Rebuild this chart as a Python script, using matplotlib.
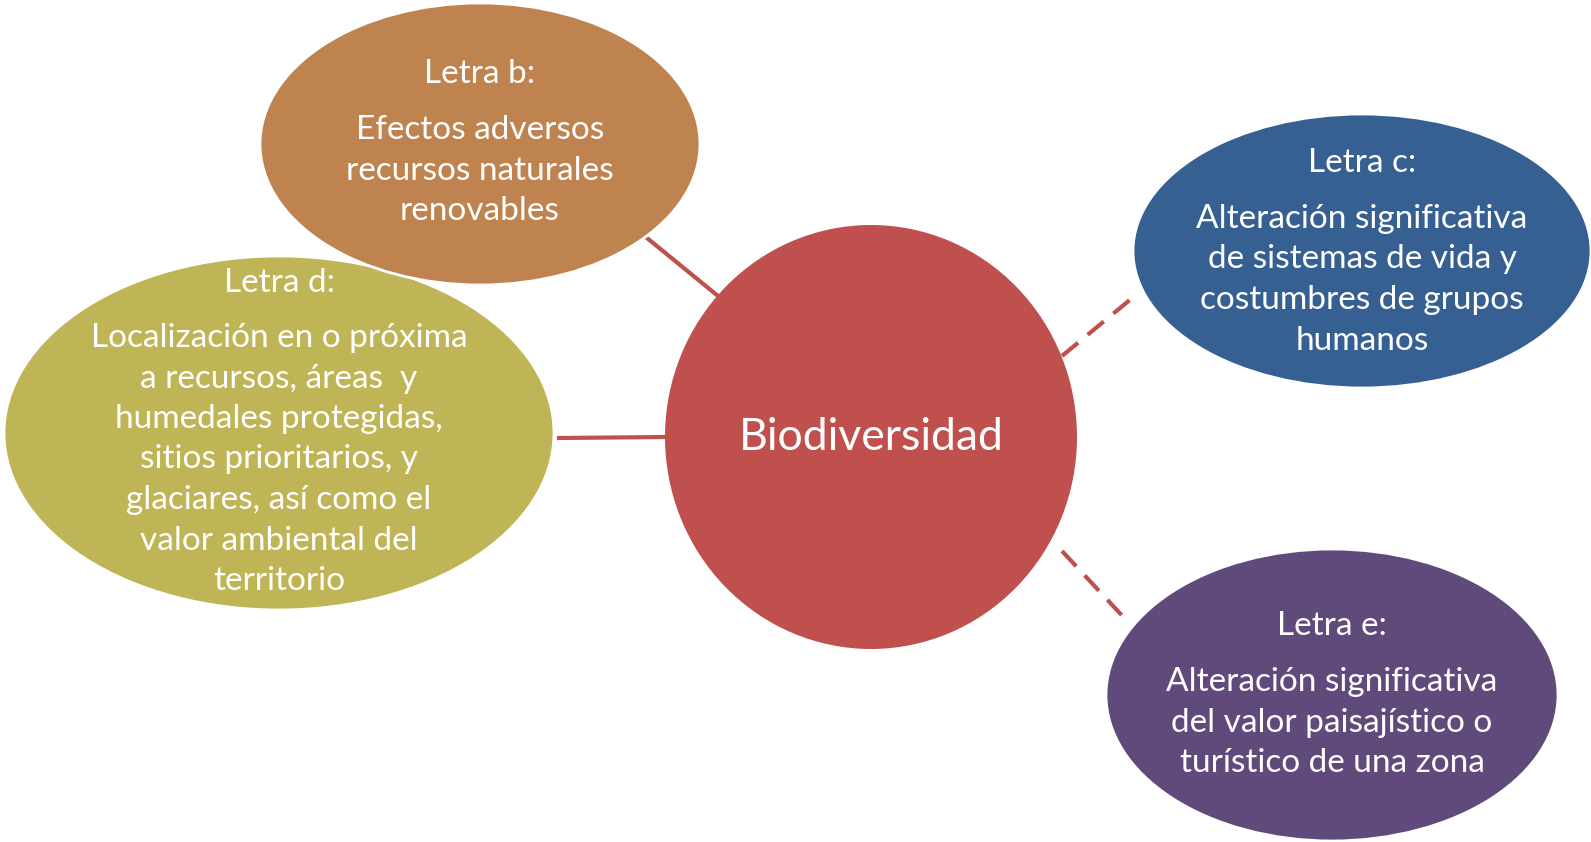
import matplotlib.pyplot as plt
from matplotlib.patches import Ellipse

plt.rcParams['font.family'] = ['Lato', 'DejaVu Sans']

# texts of the diagram
center_label = "Biodiversidad"
headers = ["Letra b:", "Letra d:", "Letra c:", "Letra e:"]
bodies = [
    ["Efectos adversos", "recursos naturales", "renovables"],
    ["Localización en o próxima", "a recursos, áreas  y", "humedales protegidas,",
     "sitios prioritarios, y", "glaciares, así como el", "valor ambiental del", "territorio"],
    ["Alteración significativa", "de sistemas de vida y", "costumbres de grupos", "humanos"],
    ["Alteración significativa", "del valor paisajístico o", "turístico de una zona"],
]
colors = ["#BF8350", "#BFB456", "#376092", "#604A7B"]
center_color = "#C0504D"

# layout (pixels, y down)
W, H = 1591, 842
ell_xy = [(480, 144), (279, 433), (1362, 251), (1332, 695)]
ell_wh = [(440, 282), (550, 354), (458, 274), (452, 292)]
head_y = [74, 283, 163, 626]
body_y = [130, 338, 219, 682]
line_gap = 40.5
links = [((647, 238), (718, 296), '-'), ((559, 438), (666, 437), '-'),
         ((1062, 356), (1137, 294), '--'), ((1062, 551), (1128, 622), '--')]

fig = plt.figure(figsize=(W / 100, H / 100), dpi=100)
ax = fig.add_axes([0, 0, 1, 1])
ax.set_xlim(0, W)
ax.set_ylim(H, 0)
ax.axis('off')

for (p0, p1, ls) in links:
    ax.plot([p0[0], p1[0]], [p0[1], p1[1]], color=center_color, lw=3,
            linestyle=ls, dashes=(5, 3) if ls == '--' else (None, None), zorder=1)

order = [1, 0, 2, 3]
for i in order:
    ax.add_patch(Ellipse(ell_xy[i], ell_wh[i][0], ell_wh[i][1], facecolor=colors[i],
                         edgecolor='white', lw=2, zorder=2 + order.index(i)))
    ax.text(ell_xy[i][0], head_y[i], headers[i], color='white', fontsize=24,
            ha='center', va='center', zorder=10)
    for k, line in enumerate(bodies[i]):
        ax.text(ell_xy[i][0], body_y[i] + k * line_gap, line, color='white', fontsize=24,
                ha='center', va='center', zorder=10)

ax.add_patch(Ellipse((871, 437), 412, 424, facecolor=center_color, edgecolor='none', zorder=6))
ax.text(871, 437, center_label, color='white', fontsize=32, ha='center', va='center', zorder=10)

fig.savefig("out.png", dpi=100)
